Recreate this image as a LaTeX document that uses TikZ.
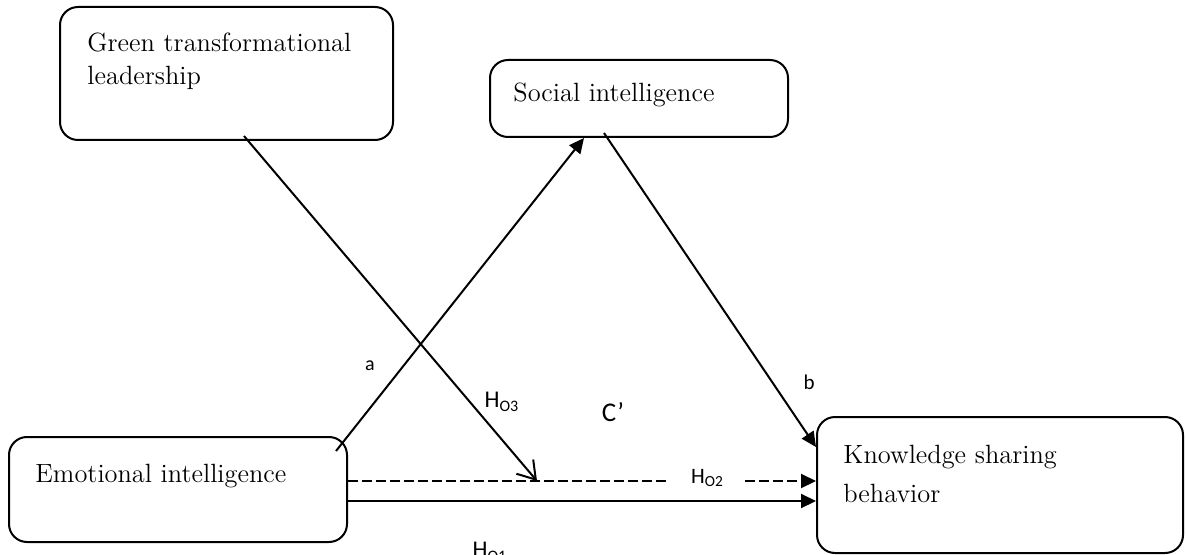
\documentclass[tikz,border=0pt]{standalone}
\usepackage{fontspec}
\newfontfamily\lab{Carlito}
\usetikzlibrary{arrows.meta,calc}
\begin{document}
\begin{tikzpicture}[x=0.5pt,y=-0.5pt,
  box/.style={draw, line width=1pt, rounded corners=9pt, inner sep=0pt},
  txt/.style={anchor=base west, inner sep=0pt, font=\fontsize{13.2}{16.5}\selectfont},
  lbl/.style={inner sep=0pt, font=\lab\fontsize{10}{12}\selectfont},
  conn/.style={line width=1pt},
  tri/.style={-{Triangle[length=7.5pt,width=7pt]}},
  barb/.style={-{Straight Barb[length=8.5pt,width=11pt,line width=1pt]}},
  dsh/.style={dash pattern=on 5pt off 2pt}
]
\useasboundingbox (0,0) rectangle (1186,555);

% boxes
\node[box, minimum width=166.5pt, minimum height=66.5pt] (gtl) at (226.5,73.5) {};
\node[box, minimum width=149pt, minimum height=38.5pt] (si) at (639,98.5) {};
\node[box, minimum width=169pt, minimum height=52.5pt] (ei) at (178,489.5) {};
\node[box, minimum width=183pt, minimum height=68pt] (ksb) at (1000,485) {};

% texts
\node[txt] (gtlt1) at (87,52) {Green transformational};
\node[txt] (gtlt2) at (87,85) {leadership};
\node[txt] (sit) at (513,102) {Social intelligence};
\node[txt] (eit) at (35,482) {Emotional intelligence};
\node[txt] (ksbt1) at (843,463) {Knowledge sharing};
\node[txt] (ksbt2) at (843,502) {behavior};

% connector points
\coordinate (m) at (537,481);
\coordinate (d1) at ($(ei.east)+(0,-8.5)$);
\coordinate (d2) at ($(ksb.west)+(0,-4)$);
\coordinate (s1) at ($(ei.east)+(0,11.5)$);
\coordinate (s2) at ($(ksb.west)+(0,16)$);

% labels
\node[lbl] (la) at (370,366) {a};
\node[lbl, font=\lab\fontsize{10.5}{12}\selectfont] (lb) at (809,382) {b};
\node[lbl, font=\lab\fontsize{12}{14}\selectfont] (ho3) at (502,402) {H\textsubscript{O3}};
\node[lbl, font=\lab\fontsize{13.5}{16}\selectfont] (cp) at (613,412) {C’};
\node[lbl, font=\lab\fontsize{11}{13}\selectfont, minimum width=37.5pt] (ho2) at (707.5,478) {H\textsubscript{O2}};
\node[lbl, font=\lab\fontsize{12}{14}\selectfont] (ho1) at (490,552) {H\textsubscript{O1}};

% connectors
\draw[conn,tri] ($(ei.north east)+(-12,15)$) -- ($(si.south west)+(95,0)$);
\draw[conn,tri] ($(si.south west)+(115,-5)$) -- ($(ksb.north west)+(0,31)$);
\draw[conn,barb] ($(gtl.south west)+(185,-5)$) -- (m);
\draw[conn,dsh] (d1) -- (d1 -| ho2.west);
\draw[conn,dsh,tri] (d1 -| ho2.east) -- (d2);
\draw[conn,tri] (s1) -- (s2);
\end{tikzpicture}
\end{document}
